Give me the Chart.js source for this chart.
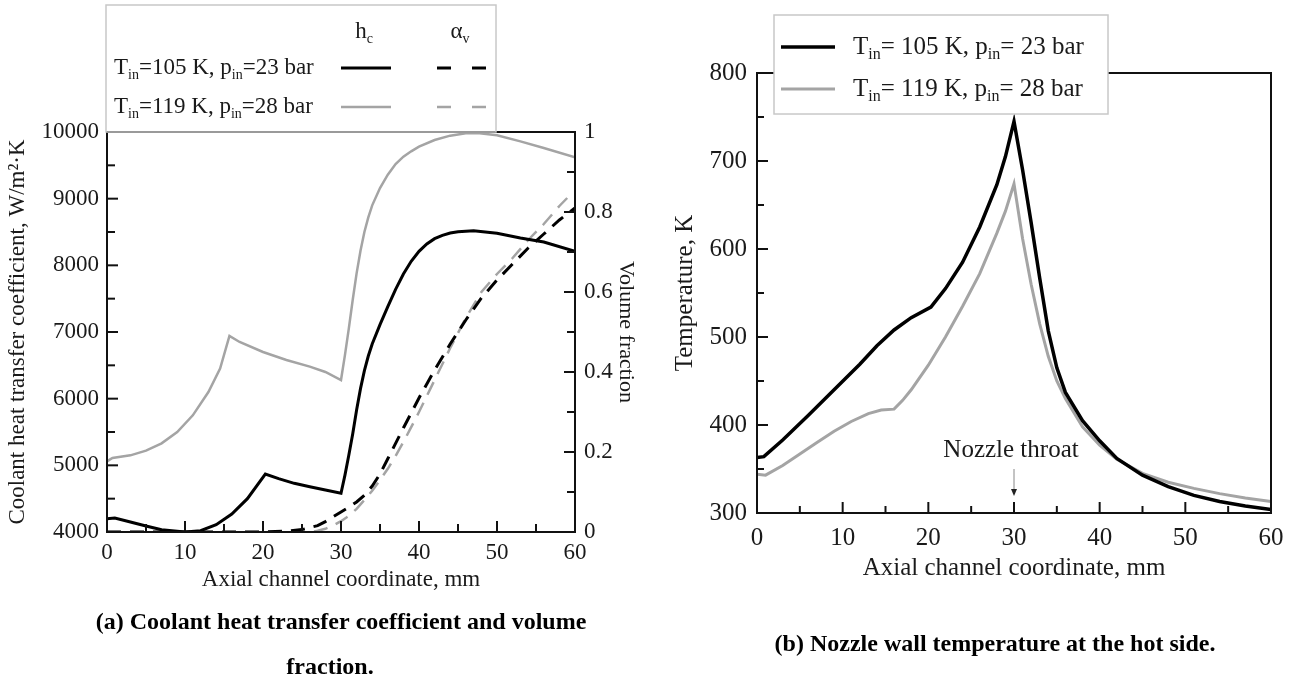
<!DOCTYPE html>
<html>
<head>
<meta charset="utf-8">
<script src="https://cdn.jsdelivr.net/npm/chart.js@4.4.1/dist/chart.umd.min.js"></script>
<style>
  html, body { margin: 0; padding: 0; background: #fff; }
  #wrap { position: relative; width: 1295px; height: 681px; }
  canvas { position: absolute; top: 0; }
  #chartA { left: 0; }
  #chartB { left: 650px; }
</style>
</head>
<body>
<div id="wrap">
  <canvas id="chartA" width="650" height="681"></canvas>
  <canvas id="chartB" width="645" height="681"></canvas>
</div>
<script>
'use strict';

// ---- panel (a): coolant heat transfer coefficient (W/m2K) ----
var hcX105 = [0, 1, 3, 5, 7, 10, 12, 14, 16, 18, 20.3, 22, 24, 26, 28, 30, 30.5, 31, 31.5, 32, 32.5, 33, 33.5, 34, 35, 36, 37, 38, 39, 40, 41, 42, 43, 44, 45, 47, 50, 53, 56, 60];
var hc105  = [4200, 4210, 4150, 4090, 4035, 4000, 4020, 4110, 4270, 4500, 4870, 4800, 4730, 4680, 4630, 4580, 4850, 5150, 5470, 5830, 6150, 6420, 6640, 6820, 7110, 7380, 7640, 7870, 8060, 8210, 8320, 8400, 8450, 8485, 8505, 8520, 8480, 8410, 8350, 8210];

var hcX119 = [0, 0.7, 3, 5, 7, 9, 11, 13, 14.5, 15.7, 17, 20, 23, 26, 28, 30, 30.5, 31, 31.5, 32, 32.5, 33, 33.5, 34, 35, 36, 37, 38, 39, 40, 42, 44, 46, 47.5, 50, 53, 56, 60];
var hc119  = [5060, 5110, 5150, 5220, 5330, 5500, 5750, 6100, 6450, 6940, 6850, 6700, 6580, 6480, 6400, 6280, 6650, 7050, 7480, 7880, 8220, 8500, 8720, 8900, 9160, 9360, 9520, 9630, 9710, 9780, 9880, 9945, 9980, 9985, 9950, 9860, 9760, 9620];

// volume fraction (-)
var avX105 = [0, 5, 10, 15, 20, 23, 25, 27, 28, 29, 30, 31, 32, 33, 34, 35, 36, 38, 40, 42, 44, 46, 48, 50, 52, 54, 56, 58, 60];
var av105  = [0, 0, 0, 0, 0, 0.002, 0.006, 0.016, 0.026, 0.038, 0.05, 0.062, 0.075, 0.092, 0.115, 0.145, 0.183, 0.26, 0.335, 0.405, 0.47, 0.53, 0.585, 0.63, 0.67, 0.71, 0.745, 0.78, 0.81];

var avX119 = [0, 5, 10, 15, 20, 26, 27, 28, 29, 30, 31, 32, 33, 34, 35, 36, 37, 38, 39, 40, 42, 44, 46, 48, 50, 52, 54, 56, 58, 59];
var av119  = [0, 0, 0, 0, 0, 0, 0.003, 0.008, 0.016, 0.027, 0.04, 0.058, 0.08, 0.103, 0.13, 0.158, 0.19, 0.225, 0.262, 0.3, 0.38, 0.46, 0.535, 0.6, 0.645, 0.685, 0.73, 0.77, 0.815, 0.835];

// ---- panel (b): nozzle wall temperature (K) ----
var tX105 = [0, 0.8, 3, 6, 9, 12, 14, 16, 18, 20.3, 22, 24, 26, 28, 29, 30, 31, 32, 33, 34, 35, 36, 38, 40, 42, 45, 48, 51, 54, 57, 60];
var t105  = [363, 364, 383, 411, 440, 469, 490, 508, 522, 534, 555, 585, 625, 673, 705, 745, 690, 630, 567, 507, 465, 437, 405, 382, 362, 343, 330, 320, 313, 308, 304];

var tX119 = [0, 1, 3, 5, 7, 9, 11, 13, 14.5, 16, 17, 18, 20, 22, 24, 26, 28, 29, 30, 31, 32, 33, 34, 35, 36, 38, 40, 42, 45, 48, 51, 54, 57, 60];
var t119  = [344, 343, 354, 367, 380, 393, 404, 413, 417, 418, 428, 440, 468, 500, 535, 572, 618, 643, 674, 612, 560, 515, 478, 450, 430, 398, 377, 361, 345, 335, 328, 322, 317, 313];

// ---- ticks ----
var xTicks = [0, 10, 20, 30, 40, 50, 60];
var xMinor = [5, 15, 25, 35, 45, 55];
var hcTicks = [4000, 5000, 6000, 7000, 8000, 9000, 10000];
var hcMinor = [4500, 5500, 6500, 7500, 8500, 9500];
var avTicks = [0, 0.2, 0.4, 0.6, 0.8, 1];
var avLabels = ['0', '0.2', '0.4', '0.6', '0.8', '1'];
var avMinor = [0.1, 0.3, 0.5, 0.7, 0.9];
var tTicks = [300, 400, 500, 600, 700, 800];
var tMinor = [350, 450, 550, 650, 750];

var seriesNames = [
    [['T', 0], ['in', 1], ['=105 K, p', 0], ['in', 1], ['=23 bar', 0]],
    [['T', 0], ['in', 1], ['=119 K, p', 0], ['in', 1], ['=28 bar', 0]]
];
var seriesNamesB = [
    [['T', 0], ['in', 1], ['= 105 K, p', 0], ['in', 1], ['= 23 bar', 0]],
    [['T', 0], ['in', 1], ['= 119 K, p', 0], ['in', 1], ['= 28 bar', 0]]
];

var FONT = "'Liberation Serif', 'Times New Roman', serif";
var INK = '#1a1a1a';
var BLACK = '#000000';
var GREY = '#a4a4a4';
var DASH = [14, 9];

function pts(xs, ys) {
    return xs.map(function(x, i) { return {x: x, y: ys[i]}; });
}

function fixedTicks(values) {
    return function(scale) {
        scale.ticks = values.map(function(v) { return {value: v}; });
    };
}

function plain(v) { return String(v); }

// text with subscripts, parts = [[text, isSub], ...]
function drawRich(ctx, parts, x, y, size, align) {
    var subSize = Math.round(size * 0.62);
    var w = 0;
    parts.forEach(function(p) {
        ctx.font = (p[1] ? subSize : size) + 'px ' + FONT;
        w += ctx.measureText(p[0]).width;
    });
    var cx = align === 'center' ? x - w / 2 : x;
    ctx.textAlign = 'left';
    ctx.textBaseline = 'middle';
    parts.forEach(function(p) {
        ctx.font = (p[1] ? subSize : size) + 'px ' + FONT;
        ctx.fillText(p[0], cx, p[1] ? y + size * 0.3 : y);
        cx += ctx.measureText(p[0]).width;
    });
}

function frameTicks(spec) {
    return {
        id: 'frameTicks',
        afterDatasetsDraw: function(chart) {
            var a = chart.chartArea, ctx = chart.ctx;
            ctx.save();
            ctx.strokeStyle = '#111';
            ctx.lineWidth = 2;
            ctx.strokeRect(a.left, a.top, a.right - a.left, a.bottom - a.top);
            spec.forEach(function(s) {
                var scale = chart.scales[s.scale];
                s.values.forEach(function(v) {
                    var p = scale.getPixelForValue(v);
                    ctx.beginPath();
                    if (s.side === 'bottom') { ctx.moveTo(p, a.bottom); ctx.lineTo(p, a.bottom - s.len); }
                    if (s.side === 'left') { ctx.moveTo(a.left, p); ctx.lineTo(a.left + s.len, p); }
                    if (s.side === 'right') { ctx.moveTo(a.right, p); ctx.lineTo(a.right - s.len, p); }
                    ctx.stroke();
                });
            });
            ctx.restore();
        }
    };
}

function sample(ctx, ds, x1, x2, y, dash) {
    ctx.save();
    ctx.strokeStyle = ds.borderColor;
    ctx.lineWidth = ds.borderWidth;
    ctx.setLineDash(dash || []);
    ctx.beginPath();
    ctx.moveTo(x1, y);
    ctx.lineTo(x2, y);
    ctx.stroke();
    ctx.restore();
}

// ---------------- chart (a) ----------------
var legendA = {
    id: 'legendA',
    afterDraw: function(chart) {
        var ctx = chart.ctx, ds = chart.data.datasets;
        ctx.save();
        ctx.fillStyle = '#fff';
        ctx.fillRect(106, 5, 390, 126);
        ctx.strokeStyle = '#c8c8c8';
        ctx.lineWidth = 1.5;
        ctx.strokeRect(106, 5, 390, 127);
        ctx.fillStyle = INK;
        drawRich(ctx, [['h', 0], ['c', 1]], 364, 32, 23, 'center');
        drawRich(ctx, [['\u03b1', 0], ['v', 1]], 460, 32, 23, 'center');
        drawRich(ctx, seriesNames[0], 114, 68, 23, 'left');
        drawRich(ctx, seriesNames[1], 114, 107, 23, 'left');
        sample(ctx, ds[0], 341, 391, 68);
        sample(ctx, ds[2], 437, 487, 68, [14, 21]);
        sample(ctx, ds[1], 341, 391, 107);
        sample(ctx, ds[3], 437, 487, 107, [14, 21]);

        ctx.font = 'bold 24px ' + FONT;
        ctx.textAlign = 'center';
        ctx.textBaseline = 'middle';
        ctx.fillStyle = '#000';
        ctx.fillText('(a) Coolant heat transfer coefficient and volume', 341, 623);
        ctx.fillText('fraction.', 330, 668);
        ctx.restore();
    }
};

new Chart(document.getElementById('chartA'), {
    type: 'line',
    data: {
        datasets: [
            {label: 'hc 105', data: pts(hcX105, hc105), borderColor: BLACK, borderWidth: 3, yAxisID: 'y'},
            {label: 'hc 119', data: pts(hcX119, hc119), borderColor: GREY, borderWidth: 2.5, yAxisID: 'y'},
            {label: 'av 105', data: pts(avX105, av105), borderColor: BLACK, borderWidth: 3, borderDash: DASH, yAxisID: 'y1'},
            {label: 'av 119', data: pts(avX119, av119), borderColor: GREY, borderWidth: 2.5, borderDash: DASH, yAxisID: 'y1'}
        ]
    },
    options: {
        responsive: false,
        animation: false,
        events: [],
        elements: {point: {radius: 0}, line: {tension: 0}},
        layout: {padding: {left: 0, right: 0, top: 132, bottom: 87}},
        plugins: {legend: {display: false}, tooltip: {enabled: false}},
        scales: {
            x: {
                type: 'linear', min: 0, max: 60,
                afterBuildTicks: fixedTicks(xTicks),
                afterFit: function(s) { s.height = 62; },
                grid: {display: false, drawTicks: false}, border: {display: false},
                ticks: {padding: 7, color: INK, font: {family: FONT, size: 23}, maxRotation: 0, callback: plain},
                title: {display: true, text: 'Axial channel coordinate, mm', color: INK,
                        font: {family: FONT, size: 23}, padding: {top: 0, bottom: 0}}
            },
            y: {
                position: 'left', min: 4000, max: 10000,
                afterBuildTicks: fixedTicks(hcTicks),
                afterFit: function(s) { s.width = 107; },
                grid: {display: false, drawTicks: false}, border: {display: false},
                ticks: {padding: 8, color: INK, font: {family: FONT, size: 23}, callback: plain},
                title: {display: true, text: 'Coolant heat transfer coefficient, W/m\u00b2\u00b7K', color: INK,
                        font: {family: FONT, size: 23}, padding: {top: 4, bottom: 0}}
            },
            y1: {
                position: 'right', min: 0, max: 1,
                afterBuildTicks: fixedTicks(avTicks),
                afterFit: function(s) { s.width = 75; },
                grid: {display: false, drawTicks: false}, border: {display: false},
                ticks: {padding: 9, color: INK, font: {family: FONT, size: 23},
                        callback: function(v) { return avLabels[avTicks.indexOf(v)]; }},
                title: {display: true, text: 'Volume fraction', color: INK,
                        font: {family: FONT, size: 22}, padding: {top: 11, bottom: 0}}
            }
        }
    },
    plugins: [frameTicks([
        {scale: 'x', values: xTicks, len: 11, side: 'bottom'},
        {scale: 'x', values: xMinor, len: 8, side: 'bottom'},
        {scale: 'y', values: hcTicks, len: 11, side: 'left'},
        {scale: 'y', values: hcMinor, len: 8, side: 'left'},
        {scale: 'y1', values: avTicks, len: 11, side: 'right'},
        {scale: 'y1', values: avMinor, len: 8, side: 'right'}
    ]), legendA]
});

// ---------------- chart (b) ----------------
var legendB = {
    id: 'legendB',
    afterDraw: function(chart) {
        var ctx = chart.ctx, ds = chart.data.datasets;
        var xs = chart.scales.x;
        ctx.save();
        ctx.fillStyle = '#fff';
        ctx.fillRect(124, 15, 334, 99);
        ctx.strokeStyle = '#c8c8c8';
        ctx.lineWidth = 1.5;
        ctx.strokeRect(124, 15, 334, 99);
        ctx.fillStyle = INK;
        sample(ctx, ds[0], 131, 185, 47);
        sample(ctx, ds[1], 131, 185, 89);
        drawRich(ctx, seriesNamesB[0], 203, 47, 25, 'left');
        drawRich(ctx, seriesNamesB[1], 203, 89, 25, 'left');

        // throat marker
        var px = xs.getPixelForValue(30);
        ctx.font = '25px ' + FONT;
        ctx.textAlign = 'center';
        ctx.textBaseline = 'middle';
        ctx.fillText('Nozzle throat', px - 3, 450);
        ctx.strokeStyle = '#888';
        ctx.lineWidth = 1;
        ctx.beginPath();
        ctx.moveTo(px, 469);
        ctx.lineTo(px, 490);
        ctx.stroke();
        ctx.fillStyle = '#222';
        ctx.beginPath();
        ctx.moveTo(px - 3, 489);
        ctx.lineTo(px + 3, 489);
        ctx.lineTo(px, 496);
        ctx.closePath();
        ctx.fill();

        ctx.font = 'bold 24px ' + FONT;
        ctx.fillStyle = '#000';
        ctx.fillText('(b) Nozzle wall temperature at the hot side.', 345, 645);
        ctx.restore();
    }
};

new Chart(document.getElementById('chartB'), {
    type: 'line',
    data: {
        datasets: [
            {label: 'T 105', data: pts(tX105, t105), borderColor: BLACK, borderWidth: 3.5},
            {label: 'T 119', data: pts(tX119, t119), borderColor: GREY, borderWidth: 3}
        ]
    },
    options: {
        responsive: false,
        animation: false,
        events: [],
        elements: {point: {radius: 0}, line: {tension: 0}},
        layout: {padding: {left: 0, right: 24, top: 73, bottom: 98}},
        plugins: {legend: {display: false}, tooltip: {enabled: false}},
        scales: {
            x: {
                type: 'linear', min: 0, max: 60,
                afterBuildTicks: fixedTicks(xTicks),
                afterFit: function(s) { s.height = 70; },
                grid: {display: false, drawTicks: false}, border: {display: false},
                ticks: {padding: 10, color: INK, font: {family: FONT, size: 25}, maxRotation: 0, callback: plain},
                title: {display: true, text: 'Axial channel coordinate, mm', color: INK,
                        font: {family: FONT, size: 25}, padding: {top: 0, bottom: 0}}
            },
            y: {
                position: 'left', min: 300, max: 800,
                afterBuildTicks: fixedTicks(tTicks),
                afterFit: function(s) { s.width = 107; },
                grid: {display: false, drawTicks: false}, border: {display: false},
                ticks: {padding: 10, color: INK, font: {family: FONT, size: 25}, callback: plain},
                title: {display: true, text: 'Temperature, K', color: INK,
                        font: {family: FONT, size: 25}, padding: {top: 20, bottom: 0}}
            }
        }
    },
    plugins: [frameTicks([
        {scale: 'x', values: xTicks, len: 11, side: 'bottom'},
        {scale: 'x', values: xMinor, len: 7, side: 'bottom'},
        {scale: 'y', values: tTicks, len: 11, side: 'left'},
        {scale: 'y', values: tMinor, len: 7, side: 'left'}
    ]), legendB]
});
</script>
</body>
</html>
